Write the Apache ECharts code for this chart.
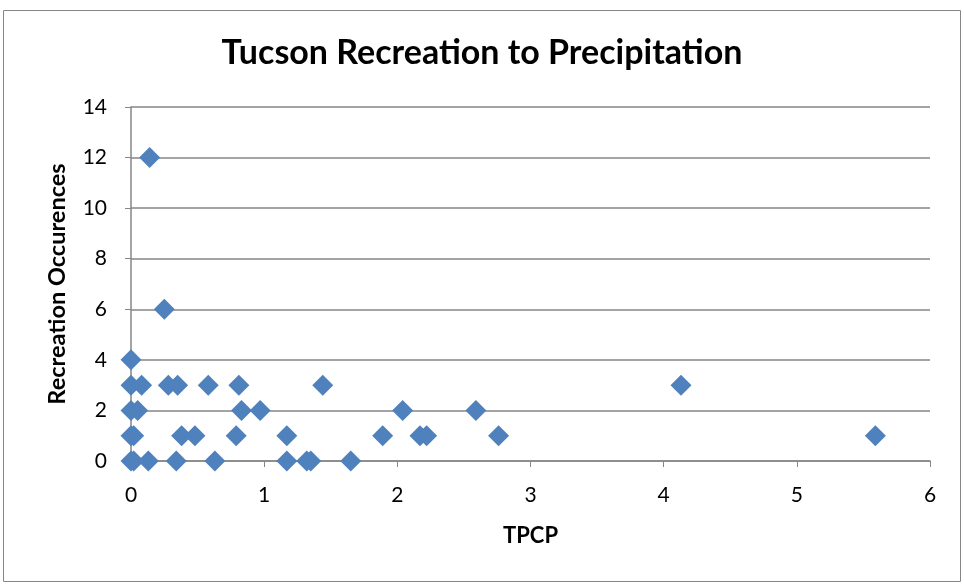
<!DOCTYPE html>
<html>
<head>
<meta charset="utf-8">
<script src="https://cdn.jsdelivr.net/npm/echarts@6/dist/echarts.min.js"></script>
<style>
  html, body { margin: 0; padding: 0; background: #fff; }
  #main { width: 964px; height: 585px; }
</style>
</head>
<body>
<div id="main"></div>
<script>
// precipitation (TPCP) and recreation occurrences
var tpcp = [0.14, 0.25, 0,
  0, 0.08, 0.28, 0.35, 0.58, 0.81, 1.44, 4.13,
  0, 0.05, 0.83, 0.97, 2.04, 2.59,
  0, 0.02, 0.38, 0.48, 0.79, 1.17, 1.89, 2.17, 2.22, 2.76, 5.59,
  0, 0.02, 0.13, 0.34, 0.63, 1.17, 1.32, 1.35, 1.65];
var occurrences = [12, 6, 4,
  3, 3, 3, 3, 3, 3, 3, 3,
  2, 2, 2, 2, 2, 2,
  1, 1, 1, 1, 1, 1, 1, 1, 1, 1, 1,
  0, 0, 0, 0, 0, 0, 0, 0, 0];

var points = tpcp.map(function (x, i) { return [x, occurrences[i]]; });

var chart = echarts.init(document.getElementById('main'));
var font = 'Lato, "Open Sans", sans-serif';

var option = {
  animation: false,
  backgroundColor: '#fff',
  textStyle: { fontFamily: font },
  title: {
    text: 'Tucson Recreation to Precipitation',
    left: 'center',
    top: 31,
    textStyle: { fontSize: 34, fontWeight: 'bold', color: '#000', fontFamily: font }
  },
  graphic: [{
    type: 'rect',
    shape: { x: 3.5, y: 10.5, width: 957, height: 571 },
    style: { fill: null, stroke: '#868686', lineWidth: 1 },
    silent: true
  }],
  grid: { left: 131, right: 34, top: 107, bottom: 124 },
  xAxis: {
    type: 'value',
    min: 0, max: 6, interval: 1,
    name: 'TPCP',
    nameLocation: 'middle',
    nameGap: 64,
    nameTextStyle: { fontSize: 22, fontWeight: 'bold', color: '#000' },
    axisLine: { show: true, onZero: false, lineStyle: { color: '#868686', width: 1.5 } },
    axisTick: { show: true, inside: false, length: 6, lineStyle: { color: '#868686' } },
    axisLabel: { fontSize: 21, color: '#000', margin: 24 },
    splitLine: { show: false }
  },
  yAxis: {
    type: 'value',
    min: 0, max: 14, interval: 2,
    name: 'Recreation Occurences',
    nameLocation: 'middle',
    nameGap: 62,
    nameTextStyle: { fontSize: 23.5, fontWeight: 'bold', color: '#000' },
    axisLine: { show: true, lineStyle: { color: '#868686', width: 1.5 } },
    axisTick: { show: true, inside: false, length: 6, lineStyle: { color: '#868686' } },
    axisLabel: { fontSize: 21, color: '#000', margin: 24 },
    splitLine: { show: true, lineStyle: { color: '#868686', width: 1.5 } }
  },
  series: [{
    type: 'scatter',
    symbol: 'diamond',
    symbolSize: 21,
    itemStyle: { color: '#4F81BD', opacity: 1 },
    data: points
  }]
};

chart.setOption(option);
</script>
</body>
</html>
